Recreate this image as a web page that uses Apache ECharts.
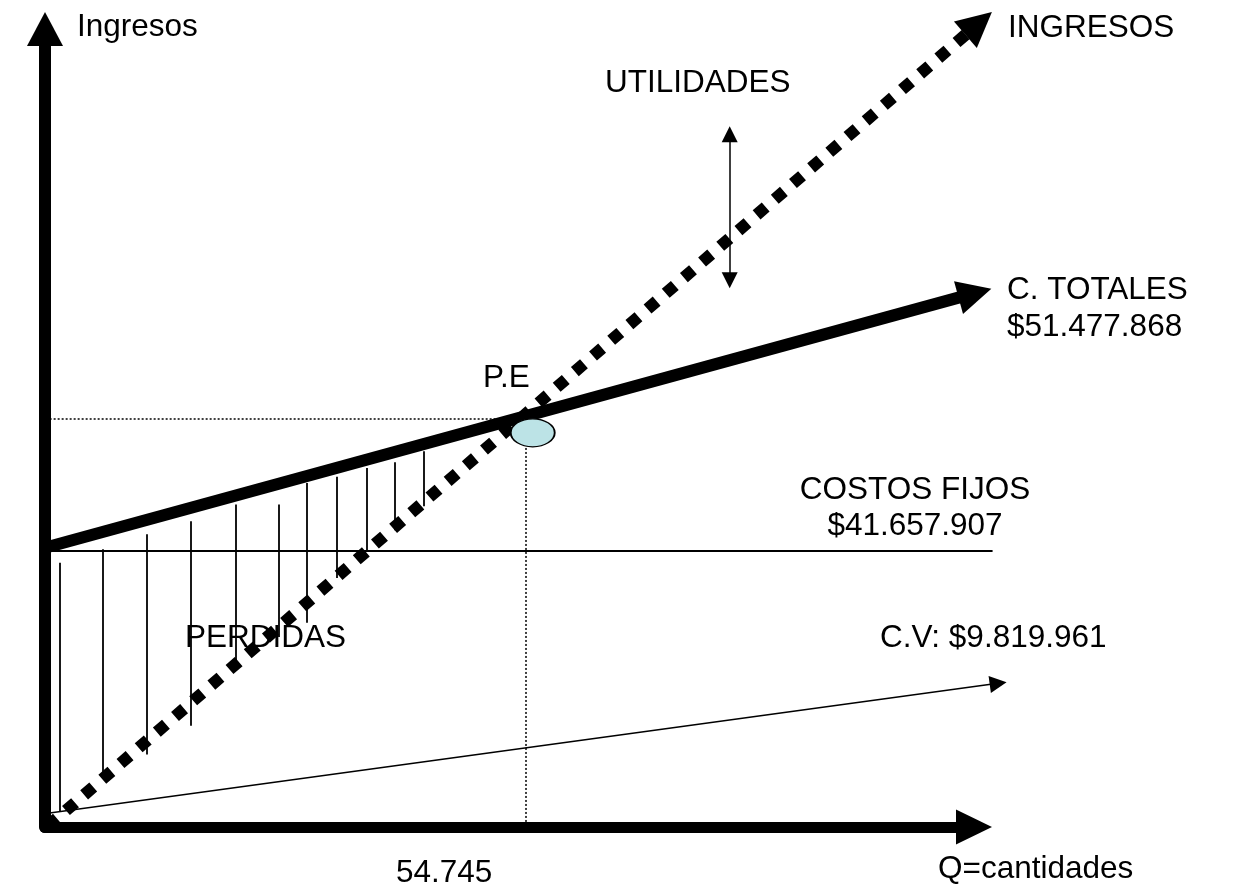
<!DOCTYPE html>
<html>
<head>
<meta charset="utf-8">
<title>Punto de equilibrio</title>
<script src="https://cdn.jsdelivr.net/npm/echarts@6/dist/echarts.min.js"></script>
<style>
  html, body { margin: 0; padding: 0; background: #fff; }
  #chart { width: 1234px; height: 890px; }
</style>
</head>
<body>
<div id="chart"></div>
<script>
// Schematic units (0-100 on both axes)
const ingresosLine = [[0.3, 0.1], [100.5, 100.7]];
const costosTotalesLine = [[0, 35.0], [100.1, 66.9]];
const costosFijosLine = [[0, 34.6], [102.0, 34.6]];
const costoVariableLine = [[0.5, 1.75], [102.6, 18.0]];
const peGuideH = [[0.5, 51.1], [49.0, 51.1]];
const peGuideV = [[51.8, 47.5], [51.8, 0]];
const pePoint = [52.5, 49.4];
const utilidadesArrow = [[73.7, 86.8], [73.7, 68.5]];
const perdidasHatchX = [1.6, 6.2, 11.0, 15.7, 20.5, 25.2, 28.2, 31.4, 34.6, 37.7, 40.8];
const perdidasHatchTop = [33.1, 34.8, 36.7, 38.3, 40.4, 40.4, 43.1, 43.9, 45.0, 45.7, 47.1];
const perdidasHatchBottom = [1.9, 6.5, 9.1, 12.7, 20.6, 23.8, 25.6, 31.2, 34.7, 37.2, 40.2];

const labelTexts = {
  yName: 'Ingresos',
  ingresos: 'INGRESOS',
  utilidades: 'UTILIDADES',
  ctTitle: 'C. TOTALES',
  ctValue: '$51.477.868',
  pe: 'P.E',
  cfTitle: 'COSTOS FIJOS',
  cfValue: '$41.657.907',
  cv: 'C.V: $9.819.961',
  perdidas: 'PERDIDAS',
  qPE: '54.745',
  xName: 'Q=cantidades'
};

const FONT = '31.5px "Liberation Sans", Arial, sans-serif';
function txt(text, x, y, align) {
  return {
    type: 'text', x: x, y: y + 2, z: 100,
    style: {
      text: text, font: FONT, fill: '#000',
      align: align || 'left', verticalAlign: 'middle',
      textAlign: align || 'left', textVerticalAlign: 'middle'
    }
  };
}

const hatchData = perdidasHatchX.map((x, i) => ({
  coords: [[x, perdidasHatchTop[i]], [x, perdidasHatchBottom[i]]]
}));

const chart = echarts.init(document.getElementById('chart'), null, { renderer: 'canvas' });
chart.setOption({
  backgroundColor: '#ffffff',
  animation: false,
  grid: { left: 45, right: 260, top: 29, bottom: 63, containLabel: false },
  xAxis: {
    type: 'value', min: 0, max: 100,
    axisLine: { show: true, onZero: true, lineStyle: { color: '#000', width: 11 },
      symbol: ['none', 'triangle'], symbolSize: [35, 36] },
    axisTick: { show: false }, axisLabel: { show: false }, splitLine: { show: false }
  },
  yAxis: {
    type: 'value', min: 0, max: 100,
    axisLine: { show: true, lineStyle: { color: '#000', width: 12 },
      symbol: ['none', 'triangle'], symbolSize: [36, 34] },
    axisTick: { show: false }, axisLabel: { show: false }, splitLine: { show: false }
  },
  series: [
    {
      name: 'hatch', type: 'lines', coordinateSystem: 'cartesian2d', z: 2, clip: false,
      lineStyle: { color: '#000', width: 1.8, opacity: 1 },
      data: hatchData
    },
    {
      name: 'guides', type: 'lines', coordinateSystem: 'cartesian2d', z: 2, clip: false,
      lineStyle: { color: '#000', width: 1.5, type: [2, 2], opacity: 1 },
      data: [{ coords: peGuideH }, { coords: peGuideV }]
    },
    {
      name: 'costosFijos', type: 'lines', coordinateSystem: 'cartesian2d', z: 3, clip: false,
      lineStyle: { color: '#000', width: 2, opacity: 1 },
      data: [{ coords: costosFijosLine }]
    },
    {
      name: 'costoVariable', type: 'lines', coordinateSystem: 'cartesian2d', z: 3, clip: false,
      symbol: ['none', 'triangle'], symbolSize: 17,
      lineStyle: { color: '#000', width: 1.5, opacity: 1 },
      itemStyle: { color: '#000' },
      data: [{ coords: costoVariableLine }]
    },
    {
      name: 'utilidades', type: 'lines', coordinateSystem: 'cartesian2d', z: 3, clip: false,
      symbol: ['triangle', 'triangle'], symbolSize: 16,
      lineStyle: { color: '#000', width: 1.5, opacity: 1 },
      data: [{ coords: utilidadesArrow }]
    },
    {
      name: 'costosTotales', type: 'lines', coordinateSystem: 'cartesian2d', z: 4, clip: false,
      symbol: ['none', 'triangle'], symbolSize: 34,
      lineStyle: { color: '#000', width: 12, opacity: 1, cap: 'butt' },
      data: [{ coords: costosTotalesLine }]
    },
    {
      name: 'ingresos', type: 'lines', coordinateSystem: 'cartesian2d', z: 5, clip: false,
      symbol: ['none', 'triangle'], symbolSize: 35,
      lineStyle: { color: '#000', width: 12, type: [12, 12], cap: 'butt', opacity: 1 },
      data: [{ coords: ingresosLine }]
    },
    {
      name: 'pe', type: 'scatter', z: 6, clip: false,
      symbol: 'circle', symbolSize: [44, 28],
      itemStyle: { color: '#bce3e6', borderColor: '#000', borderWidth: 1.5, opacity: 1 },
      data: [pePoint]
    }
  ],
  graphic: [
    txt(labelTexts.yName, 77, 25.5),
    txt(labelTexts.ingresos, 1008, 26),
    txt(labelTexts.utilidades, 605, 81),
    txt(labelTexts.ctTitle, 1007, 288.5),
    txt(labelTexts.ctValue, 1007, 325),
    txt(labelTexts.pe, 483, 376.5),
    txt(labelTexts.cfTitle, 915, 488, 'center'),
    txt(labelTexts.cfValue, 915, 524, 'center'),
    txt(labelTexts.cv, 880, 636),
    txt(labelTexts.perdidas, 185, 636),
    txt(labelTexts.qPE, 396, 871),
    txt(labelTexts.xName, 938, 867.5)
  ]
});
</script>
</body>
</html>
